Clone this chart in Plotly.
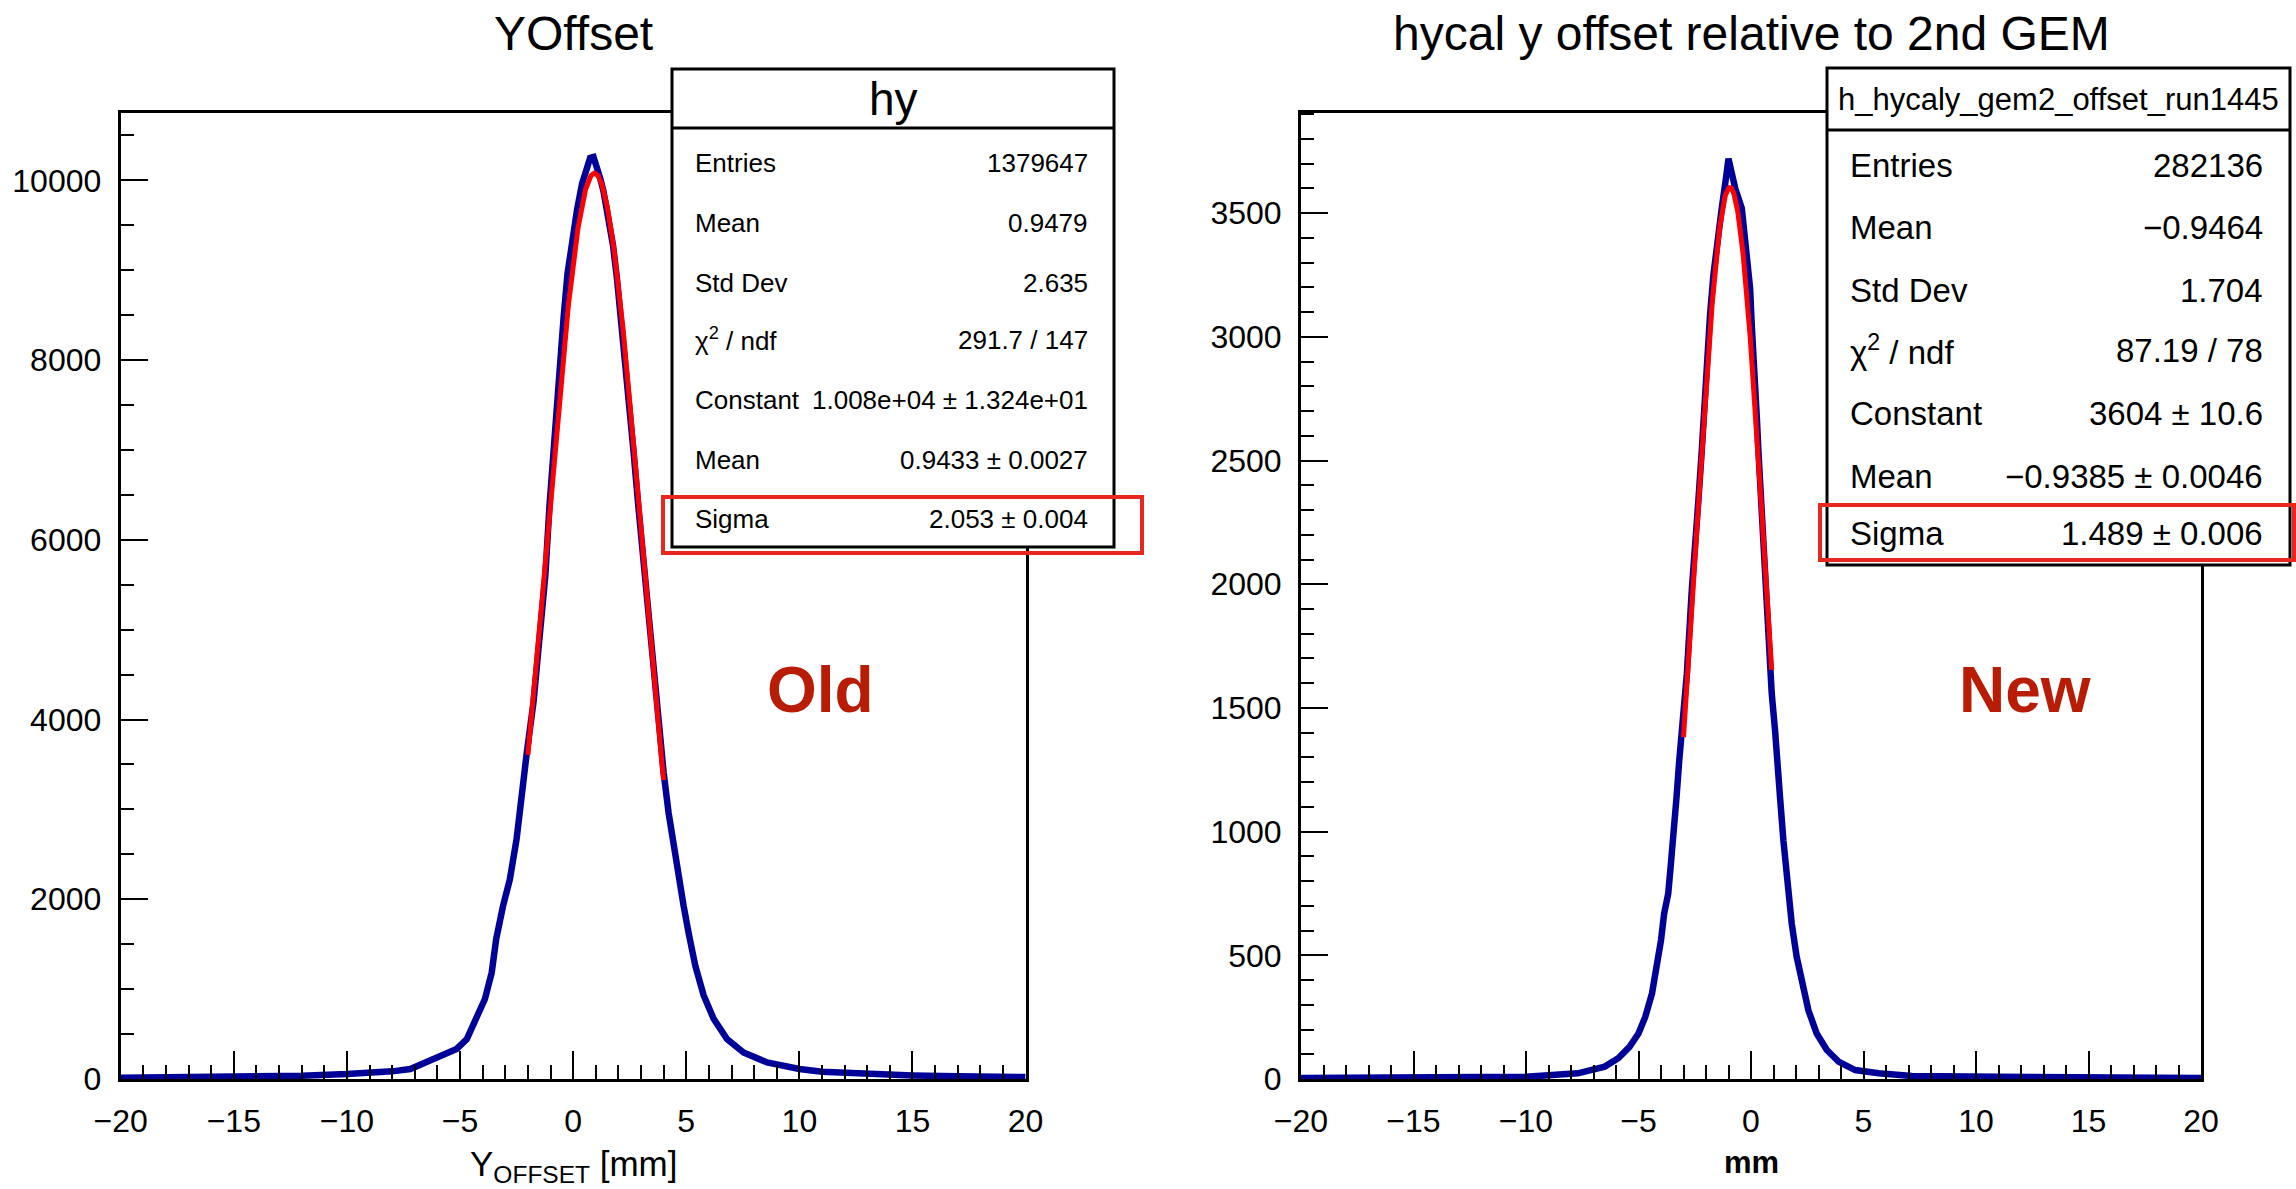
import numpy as np
import plotly.graph_objects as go

W, H = 2296, 1189
FONT = "Liberation Sans"

# ---------------- data ----------------
old_x = [-20, -17, -15, -12, -10, -9, -8, -7.2, -6.5, -5.75, -5.15, -4.7, -4.3, -3.9, -3.6,
         -3.4, -3.1, -2.8, -2.5, -2.3, -2.05, -1.75, -1.45, -1.23, -1.04, -0.87, -0.72, -0.57,
         -0.42, -0.25, -0.05, 0.17, 0.39, 0.6, 0.75, 0.9, 1.05, 1.2, 1.34, 1.57, 1.76, 1.94,
         2.11, 2.30, 2.48, 2.67, 2.89, 3.11, 3.26, 3.56, 3.78, 4.0, 4.22, 4.44, 4.66, 4.88,
         5.1, 5.4, 5.77, 6.21, 6.8, 7.53, 8.57, 10.0, 11.0, 13.0, 15.0, 17.0, 20.0]
old_y = [15, 20, 25, 37, 55, 68, 85, 111, 185, 260, 335, 445, 670, 890, 1185,
         1560, 1925, 2220, 2670, 3150, 3630, 4200, 5000, 5600, 6400, 7000, 7560, 8050,
         8480, 8960, 9330, 9670, 9960, 10120, 10250, 10260, 10150, 10020, 9880, 9600, 9280, 8900,
         8480, 7980, 7500, 6980, 6350, 5750, 5330, 4560, 3950, 3410, 2960, 2590, 2220, 1930,
         1630, 1260, 930, 670, 445, 296, 185, 111, 80, 55, 40, 30, 22]

new_x = [-20, -15, -12, -10, -7.7, -6.5, -5.9, -5.4, -5.0, -4.7, -4.4, -4.2, -4.0, -3.86,
         -3.68, -3.56, -3.46, -3.31, -3.19, -3.01, -2.85, -2.63, -2.48, -2.34, -2.19, -2.07,
         -1.97, -1.82, -1.67, -1.52, -1.30, -1.1, -1.0, -0.9, -0.7, -0.41, -0.19, -0.04, 0.04,
         0.16, 0.26, 0.33, 0.45, 0.56, 0.68, 0.78, 0.92, 1.07, 1.22, 1.29, 1.44, 1.59, 1.81,
         2.03, 2.26, 2.55, 2.92, 3.37, 3.89, 4.63, 5.67, 7.16, 11.0, 15.0, 20.0]
new_y = [4, 5, 7, 9, 23, 50, 84, 130, 184, 251, 346, 440, 561, 669,
         749, 870, 1018, 1139, 1287, 1449, 1640, 1980, 2135, 2337, 2538, 2740,
         2929, 3090, 3251, 3386, 3520, 3650, 3720, 3680, 3600, 3520, 3345, 3197, 3036,
         2875, 2673, 2538, 2337, 2135, 1960, 1770, 1560, 1408, 1260, 1139, 964, 803, 628,
         494, 386, 278, 184, 117, 70, 36, 23, 12, 9, 6, 4]

# Gaussian fit parameters (from the stats boxes) and fit ranges
old_fit = dict(const=1.008e4, mean=0.9433, sigma=2.053, lo=-2.0, hi=4.0)
new_fit = dict(const=3604.0, mean=-0.9385, sigma=1.489, lo=-3.0, hi=0.92)

old_stats = [("Entries", "1379647"), ("Mean", "0.9479"), ("Std Dev", "2.635"),
             ("χ<sup>2</sup> / ndf", "291.7 / 147"), ("Constant", "1.008e+04 ± 1.324e+01"),
             ("Mean", "0.9433 ± 0.0027"), ("Sigma", "2.053 ± 0.004")]
new_stats = [("Entries", "282136"), ("Mean", "−0.9464"), ("Std Dev", "1.704"),
             ("χ<sup>2</sup> / ndf", "87.19 / 78"), ("Constant", "3604 ± 10.6"),
             ("Mean", "−0.9385 ± 0.0046"), ("Sigma", "1.489 ± 0.006")]

x_ticks = [-20, -15, -10, -5, 0, 5, 10, 15, 20]


def gauss_curve(p):
    xs = np.linspace(p["lo"], p["hi"], 200)
    ys = p["const"] * np.exp(-0.5 * ((xs - p["mean"]) / p["sigma"]) ** 2)
    return xs, ys


def px(x):
    return x / W


def py(y):
    return 1 - y / H


BLUE = "#000099"
RED = "#ff0000"

fig = go.Figure()
fig.add_trace(go.Scatter(x=old_x, y=old_y, mode="lines", line=dict(color=BLUE, width=6.5),
                         xaxis="x", yaxis="y", showlegend=False))
fx, fy = gauss_curve(old_fit)
fig.add_trace(go.Scatter(x=fx, y=fy, mode="lines", line=dict(color=RED, width=5),
                         xaxis="x", yaxis="y", showlegend=False))
fig.add_trace(go.Scatter(x=new_x, y=new_y, mode="lines", line=dict(color=BLUE, width=6.5),
                         xaxis="x2", yaxis="y2", showlegend=False))
fx, fy = gauss_curve(new_fit)
fig.add_trace(go.Scatter(x=fx, y=fy, mode="lines", line=dict(color=RED, width=5),
                         xaxis="x2", yaxis="y2", showlegend=False))

tickfont = dict(family=FONT, size=32, color="black")


def xaxis_cfg(domain, anchor):
    return dict(domain=domain, anchor=anchor, range=[-20, 20], tickvals=x_ticks,
                ticktext=[("−" + str(-v)) if v < 0 else str(v) for v in x_ticks],
                ticks="inside", ticklen=28, tickwidth=2, tickcolor="black",
                minor=dict(dtick=1, tick0=0, ticks="inside", ticklen=14, tickwidth=2,
                           tickcolor="black", showgrid=False),
                showline=True, linewidth=3, linecolor="black", mirror=True,
                showgrid=False, zeroline=False, tickfont=tickfont, ticklabelstandoff=12,
                automargin=False)


def yaxis_cfg(domain, anchor, rng, dt, mdt):
    return dict(domain=domain, anchor=anchor, range=rng, dtick=dt, tick0=0,
                tickformat="d",
                ticks="inside", ticklen=27, tickwidth=2, tickcolor="black",
                minor=dict(dtick=mdt, tick0=0, ticks="inside", ticklen=13, tickwidth=2,
                           tickcolor="black", showgrid=False),
                showline=True, linewidth=3, linecolor="black", mirror=True,
                showgrid=False, zeroline=False, tickfont=tickfont, ticklabelstandoff=10,
                automargin=False)


ydom = [py(1079), py(113)]
fig.update_layout(
    width=W, height=H, margin=dict(l=0, r=0, t=0, b=0, pad=0, autoexpand=False),
    paper_bgcolor="white", plot_bgcolor="white", showlegend=False,
    xaxis=xaxis_cfg([px(120.7), px(1025.6)], "y"),
    yaxis=yaxis_cfg(ydom, "x", [0, 10750], 2000, 500),
    xaxis2=xaxis_cfg([px(1301), px(2201)], "y2"),
    yaxis2=yaxis_cfg(ydom, "x2", [0, 3905], 500, 100),
)

shapes = []
annots = []


def text(x, y, s, size, xanchor="center", bold=False, color="black"):
    annots.append(dict(x=px(x), y=py(y), xref="paper", yref="paper", text=s,
                       showarrow=False, xanchor=xanchor, yanchor="middle",
                       font=dict(family=FONT, size=size, color=color,
                                 weight="bold" if bold else "normal")))


# titles
text(573, 34, "YOffset", 48)
text(1751, 34, "hycal y offset relative to 2nd GEM", 48)
text(573, 1166, "Y<sub>OFFSET</sub> [mm]", 35)
text(1751, 1162, "mm", 31, bold=True)
text(820, 690, "Old", 64, bold=True, color="#b81c05")
text(2025, 690, "New", 64, bold=True, color="#b81c05")


def stats_box(x0, x1, y0, yh, y1, title, tsize, rows, rys, rsize, lx, rx):
    shapes.append(dict(type="rect", xref="paper", yref="paper", x0=px(x0), x1=px(x1),
                       y0=py(y1), y1=py(y0), fillcolor="white",
                       line=dict(color="black", width=3), layer="above"))
    shapes.append(dict(type="line", xref="paper", yref="paper", x0=px(x0), x1=px(x1),
                       y0=py(yh), y1=py(yh), line=dict(color="black", width=3), layer="above"))
    text((x0 + x1) / 2, (y0 + yh) / 2 + 1, title, tsize)
    for (lab, val), yy in zip(rows, rys):
        text(lx, yy, lab, rsize, xanchor="left")
        text(rx, yy, val, rsize, xanchor="right")


stats_box(672, 1114, 69, 128, 547, "hy", 46, old_stats,
          [163, 223, 283, 340, 400, 460, 519], 26, 693, 1090)
stats_box(1827, 2290, 68, 130, 565, "h_hycaly_gem2_offset_run1445", 31, new_stats,
          [165, 227, 290, 350, 414, 477, 533], 33, 1848, 2265)

# red highlight rectangles
shapes.append(dict(type="rect", xref="paper", yref="paper", x0=px(663), x1=px(1142),
                   y0=py(553), y1=py(497), line=dict(color="#e8281e", width=4), layer="above"))
shapes.append(dict(type="rect", xref="paper", yref="paper", x0=px(1820), x1=px(2294),
                   y0=py(560), y1=py(505), line=dict(color="#e8281e", width=4), layer="above"))

fig.update_layout(shapes=shapes, annotations=annots)
fig.write_html("out.html")
